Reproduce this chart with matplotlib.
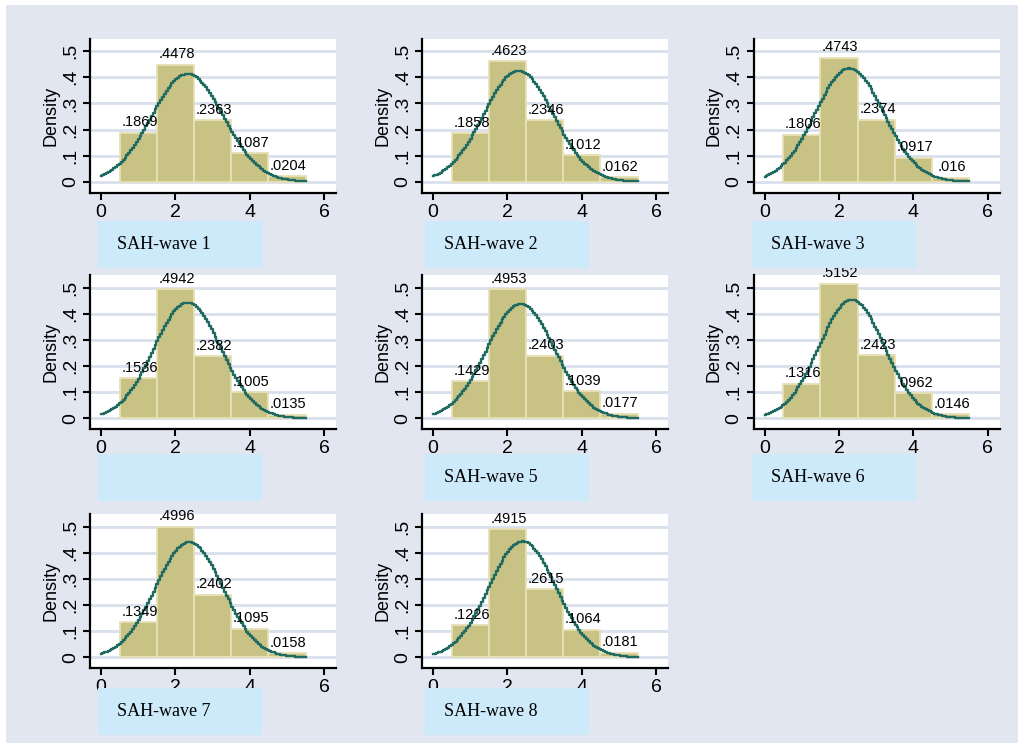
import numpy as np
import matplotlib
matplotlib.use("Agg")
import matplotlib.pyplot as plt
from matplotlib.patches import Rectangle

# SAH categories (bar centres) and histogram densities per wave
categories = [1, 2, 3, 4, 5]
wave1 = [0.1869, 0.4478, 0.2363, 0.1087, 0.0204]
wave2 = [0.1858, 0.4623, 0.2346, 0.1012, 0.0162]
wave3 = [0.1806, 0.4743, 0.2374, 0.0917, 0.0160]
wave4 = [0.1536, 0.4942, 0.2382, 0.1005, 0.0135]
wave5 = [0.1429, 0.4953, 0.2403, 0.1039, 0.0177]
wave6 = [0.1316, 0.5152, 0.2423, 0.0962, 0.0146]
wave7 = [0.1349, 0.4996, 0.2402, 0.1095, 0.0158]
wave8 = [0.1226, 0.4915, 0.2615, 0.1064, 0.0181]
label_texts = [
    [".1869", ".4478", ".2363", ".1087", ".0204"],
    [".1858", ".4623", ".2346", ".1012", ".0162"],
    [".1806", ".4743", ".2374", ".0917", ".016"],
    [".1536", ".4942", ".2382", ".1005", ".0135"],
    [".1429", ".4953", ".2403", ".1039", ".0177"],
    [".1316", ".5152", ".2423", ".0962", ".0146"],
    [".1349", ".4996", ".2402", ".1095", ".0158"],
    [".1226", ".4915", ".2615", ".1064", ".0181"],
]
captions = ["SAH-wave 1", "SAH-wave 2", "SAH-wave 3", "", "SAH-wave 5",
            "SAH-wave 6", "SAH-wave 7", "SAH-wave 8"]
waves = [wave1, wave2, wave3, wave4, wave5, wave6, wave7, wave8]
xticks = [0, 2, 4, 6]
yticks = [0, 0.1, 0.2, 0.3, 0.4, 0.5]
ytick_labels = ["0", ".1", ".2", ".3", ".4", ".5"]

W, H = 1018, 745
BG = "#e1e6f0"
BAR = "#c9c285"
BAR_EDGE = "#e6e1b6"
LINE = "#1f6b62"
GRID = "#d9e0ec"
BOX = "#cdeafb"

plt.rcParams["font.family"] = ["Liberation Sans", "DejaVu Sans"]


def px_rect(l, t, w, h):
    return [l / W, 1 - (t + h) / H, w / W, h / H]


fig = plt.figure(figsize=(W / 100, H / 100), dpi=100, facecolor="white")
fig.add_artist(Rectangle((6 / W, 1 - 743 / H), 1 - 6 / W, (743 - 5) / H,
                         transform=fig.transFigure, facecolor=BG,
                         edgecolor="none", zorder=-10))

col_left = [90, 422, 753.5]
col_box = [97.7, 425, 751.7]
row_y0 = [181.7, 418.3, 657.3]
row_box = [221, 453.5, 688]
ylo, yhi = -0.042, 0.548
ppu = 261.0

for i, vals in enumerate(waves):
    r, c = divmod(i, 3)
    top = row_y0[r] - yhi * ppu
    ax = fig.add_axes(px_rect(col_left[c], top, 246, (yhi - ylo) * ppu))
    ax.set_facecolor("white")

    ax.bar(categories, vals, width=1.0, color=BAR, edgecolor=BAR_EDGE,
           linewidth=1.3, zorder=2)

    # normal curve fitted from the histogram
    x = np.array(categories, dtype=float)
    p = np.array(vals)
    mu = np.sum(x * p) / p.sum()
    sd = np.sqrt(np.sum(p * (x - mu) ** 2) / p.sum())
    xs = np.linspace(0, 5.5, 110)
    ys = np.exp(-0.5 * ((xs - mu) / sd) ** 2) / (sd * np.sqrt(2 * np.pi))
    ax.plot(xs, ys, drawstyle="steps-mid", color=LINE, lw=1.7, zorder=3)

    for xc, v, t in zip(categories, vals, label_texts[i]):
        ax.annotate(t, (xc, v), xytext=(1, 2.5), textcoords="offset points",
                    ha="center", va="bottom", fontsize=10.5, zorder=4)

    ax.set_xlim(-0.3, 6.32)
    ax.set_ylim(ylo, yhi)
    ax.set_xticks(xticks)
    ax.set_yticks(yticks)
    ax.set_yticklabels(ytick_labels, rotation=90, va="center")
    ax.set_ylabel("Density", fontsize=13, labelpad=2)
    ax.yaxis.grid(True, color=GRID, lw=2)
    ax.set_axisbelow(True)
    for s in ["top", "right"]:
        ax.spines[s].set_visible(False)
    for s in ["left", "bottom"]:
        ax.spines[s].set_linewidth(1.6)
    ax.tick_params(direction="out", length=5, width=1.5, labelsize=14, pad=3)

    bl = col_box[c]
    bt = row_box[r]
    fig.add_artist(Rectangle((bl / W, 1 - (bt + 47) / H), 164 / W, 47 / H,
                             transform=fig.transFigure, facecolor=BOX,
                             edgecolor="none", zorder=5))
    if captions[i]:
        fig.text((bl + 19.5) / W, 1 - (bt + 23.5) / H, captions[i],
                 family="Liberation Serif", fontsize=13, va="center",
                 ha="left", zorder=6)

fig.savefig("out.png", dpi=100, facecolor="white")
